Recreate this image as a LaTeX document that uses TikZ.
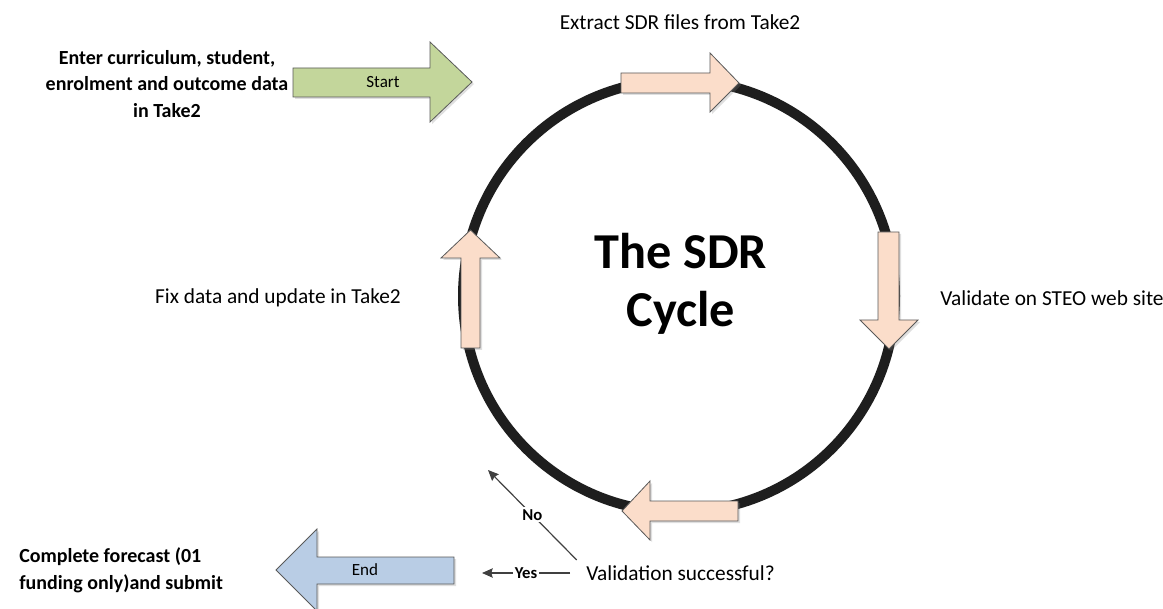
\documentclass[tikz,border=0pt]{standalone}
\usepackage{fontspec}
\setmainfont{Carlito}
\usetikzlibrary{positioning,arrows.meta,shadows}
\definecolor{peach}{RGB}{251,221,202}
\definecolor{sage}{RGB}{195,214,155}
\definecolor{skyblue}{RGB}{185,205,229}
\definecolor{rim}{RGB}{89,89,89}
\definecolor{ring}{RGB}{30,30,30}
\tikzset{
	bigarrow/.style={draw=rim, line width=0.6pt, drop shadow={opacity=0.25, shadow xshift=1.5pt, shadow yshift=-1.5pt}},
	plaintext/.style={font=\fontsize{16}{19}\selectfont, inner sep=0pt},
	boldtext/.style={font=\fontsize{15}{20}\selectfont\bfseries, inner sep=0pt},
	tag/.style={font=\fontsize{12.8}{15}\selectfont, inner sep=0pt},
	choice/.style={font=\fontsize{12.5}{14}\selectfont\bfseries, fill=white, inner sep=1.5pt},
	flow/.style={draw=black!75, line width=0.9pt, -{Stealth[length=8pt, width=7pt, inset=1pt]}},
}

\begin{document}
\begin{tikzpicture}[x=0.75pt, y=-0.75pt]
	\useasboundingbox (0,0) rectangle (1163,609);

	% the cycle
	\draw[ring, line width=7.5pt] (679,296) circle [radius=216];
	\node[font=\fontsize{37.7}{43.5}\selectfont\bfseries, align=center] (title) at (681,284) {The SDR\\Cycle};

	% arrows round the ring
	\draw[bigarrow, fill=peach] (621,73) -- (710,73) -- (710,53) -- (739,83) -- (710,112) -- (710,93) -- (621,93) -- cycle;
	\draw[bigarrow, fill=peach] (878,232) -- (899,232) -- (899,320) -- (918,320) -- (889,349) -- (860,320) -- (878,320) -- cycle;
	\draw[bigarrow, fill=peach] (738,501) -- (650,501) -- (650,481) -- (622,511) -- (650,540) -- (650,521) -- (738,521) -- cycle;
	\draw[bigarrow, fill=peach] (461,348) -- (461,258) -- (441,258) -- (470.5,230) -- (500,258) -- (480,258) -- (480,348) -- cycle;

	% start and end
	\draw[bigarrow, fill=sage] (293,68) -- (430,68) -- (430,42) -- (472,82) -- (430,122) -- (430,97) -- (293,97) -- cycle;
	\node[tag] (start) at (383,82) {Start};
	\draw[bigarrow, fill=skyblue] (454,557) -- (317,557) -- (317,529) -- (276,570) -- (317,611) -- (317,584) -- (454,584) -- cycle;
	\node[tag] (end) at (365,570) {End};

	% steps
	\node[boldtext, align=center] (enter) at (167,84) {Enter curriculum, student,\\enrolment and outcome data\\in Take2};
	\node[plaintext] (extract) at (680,22) {Extract SDR files from Take2};
	\node[plaintext, anchor=west] (validate) at (940,298) {Validate on STEO web site};
	\node[plaintext] (fix) at (278,298) {Fix data and update in Take2};
	\node[boldtext, align=left, anchor=west] (complete) at (19,570) {Complete forecast (01\\funding only)and submit};
	\node[plaintext, anchor=west] (valid) at (586,573) {Validation successful?};

	% decision
	\coordinate (yestip) at (482,573);
	\coordinate (notip) at (488,470);
	\draw[flow] ([xshift=-12pt]valid.west) -- node[choice]{Yes} (yestip);
	\draw[flow] ([shift={(-7pt,4pt)}]valid.north west) -- node[choice]{No} (notip);
\end{tikzpicture}
\end{document}
